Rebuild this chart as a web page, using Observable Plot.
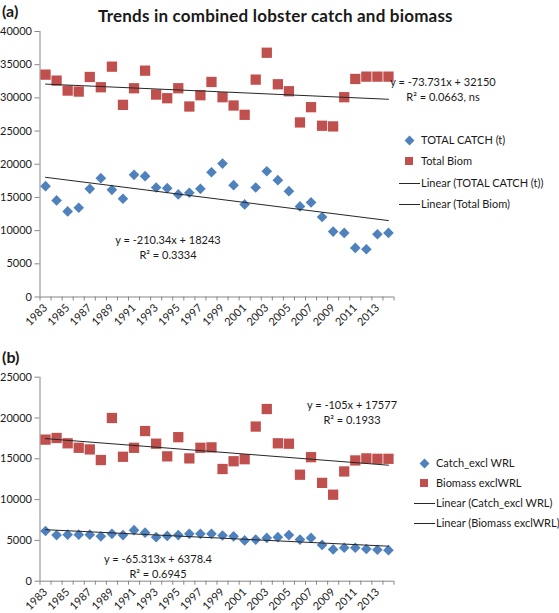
<!DOCTYPE html>
<html><head><meta charset="utf-8">
<script src="https://cdn.jsdelivr.net/npm/d3@7"></script>
<script src="https://cdn.jsdelivr.net/npm/@observablehq/plot@0.6"></script>
<style>
body{margin:0;background:#fff;}
#root{position:relative;width:559px;height:613px;font-family:Lato,"Open Sans",sans-serif;color:#1a1a1a;overflow:hidden;}
.t{position:absolute;white-space:nowrap;font-size:11px;line-height:14px;}
.b{font-weight:bold;}
.panel{position:absolute;left:0;}
.lg{position:absolute;white-space:nowrap;font-size:11px;line-height:14px;}
.sw{position:absolute;}
</style></head><body><div id="root"></div>
<script>
// ---- data ----
const years = [1983,1984,1985,1986,1987,1988,1989,1990,1991,1992,1993,1994,1995,1996,1997,1998,1999,2000,2001,2002,2003,2004,2005,2006,2007,2008,2009,2010,2011,2012,2013,2014];
const yearTickLabels = [1983,1985,1987,1989,1991,1993,1995,1997,1999,2001,2003,2005,2007,2009,2011,2013];
// panel (a)
const totalCatch = [16700,14550,12900,13450,16300,17900,16150,14800,18400,18200,16500,16400,15450,15700,16300,18800,20100,16850,13950,16500,18950,17600,15950,13650,14250,12050,9850,9650,7400,7200,9450,9650];
const totalBiom  = [33500,32600,31100,30950,33150,31600,34700,28950,31450,34100,30500,29950,31450,28700,30400,32400,30100,28850,27450,32750,36800,32050,31000,26300,28600,25800,25700,30100,32850,33200,33200,33200];
const trendCatchA = [-210.34, 18243];
const trendBiomA  = [-73.731, 32150];
const yTicksA = [0,5000,10000,15000,20000,25000,30000,35000,40000];
// panel (b)
const catchExclWRL   = [6150,5650,5700,5700,5700,5500,5800,5650,6250,5950,5400,5550,5650,5800,5800,5800,5600,5500,5000,5100,5300,5400,5650,5100,5300,4450,3900,4100,4100,3950,3850,3800];
const biomassExclWRL = [17350,17550,16900,16350,16150,14850,20000,15250,16350,18400,16850,15300,17650,15050,16350,16400,13750,14700,14950,18950,21100,16900,16850,13050,15200,12050,10600,13450,14800,15050,15000,15000];
const trendCatchB = [-65.313, 6378.4];
const trendBiomB  = [-105, 17577];
const yTicksB = [0,5000,10000,15000,20000,25000];
// text
const titleText = "Trends in combined lobster catch and biomass";
const legendA = ["TOTAL CATCH (t)","Total Biom","Linear (TOTAL CATCH (t))","Linear (Total Biom)"];
const legendB = ["Catch_excl WRL","Biomass exclWRL","Linear (Catch_excl WRL)","Linear (Biomass exclWRL)"];

const BLUE = "#4F81BD", RED = "#C0504D", AXIS = "#868686", LINE = "#262626";
const FONT = "Lato, 'Open Sans', sans-serif";

function panel({catchS, biomS, trends, yMax, yTicks, height, marginTop, marginBottom}) {
  const data = years.map((yr, i) => ({yr, c: catchS[i], b: biomS[i]}));
  const n = years.length;
  const trendData = trends.map(([m, k]) => [1, n].map(x => ({yr: years[x - 1], v: m * x + k})));
  const bounds = years.map(y => y - 0.5).concat([years[n - 1] + 0.5]);
  return Plot.plot({
    width: 559, height, marginLeft: 39.5, marginRight: 165.5, marginTop, marginBottom,
    style: {fontFamily: FONT, fontSize: "11px", color: "#1a1a1a", background: "transparent", overflow: "visible"},
    x: {type: "linear", domain: [years[0] - 0.5, years[n - 1] + 0.5]},
    y: {domain: [0, yMax]},
    marks: [
      Plot.axisY({ticks: yTicks, tickSize: 5, tickPadding: 3, tickFormat: d => String(d), label: null, stroke: AXIS, fill: "#1a1a1a"}),
      Plot.axisX({ticks: yearTickLabels, tickSize: 0, tickPadding: 9, tickRotate: -45, tickFormat: d => String(d), label: null, fill: "#1a1a1a"}),
      Plot.axisX({ticks: bounds, tickSize: 4, tickFormat: () => "", label: null, stroke: AXIS}),
      Plot.ruleX([years[0] - 0.5], {stroke: AXIS}),
      Plot.ruleY([0], {stroke: AXIS}),
      Plot.dot(data, {x: "yr", y: "b", symbol: "square", r: 5.8, fill: RED}),
      Plot.dot(data, {x: "yr", y: "c", symbol: "diamond2", r: 4.8, fill: BLUE}),
      Plot.line(trendData[0], {x: "yr", y: "v", stroke: LINE, strokeWidth: 1}),
      Plot.line(trendData[1], {x: "yr", y: "v", stroke: LINE, strokeWidth: 1})
    ]
  });
}

const root = document.getElementById("root");
function addText(txt, left, top, cls, extra) {
  const d = document.createElement("div");
  d.className = cls; d.textContent = txt;
  d.style.left = left + "px"; d.style.top = top + "px";
  if (extra) Object.assign(d.style, extra);
  root.appendChild(d); return d;
}

const svgA = panel({catchS: totalCatch, biomS: totalBiom, trends: [trendCatchA, trendBiomA], yMax: 40000, yTicks: yTicksA, height: 326, marginTop: 11, marginBottom: 49.5});
svgA.classList.add("panel"); svgA.style.top = "20px"; root.appendChild(svgA);
const svgB = panel({catchS: catchExclWRL, biomS: biomassExclWRL, trends: [trendCatchB, trendBiomB], yMax: 25000, yTicks: yTicksB, height: 247, marginTop: 10.7, marginBottom: 32.3});
svgB.classList.add("panel"); svgB.style.top = "366px"; root.appendChild(svgB);

// labels
addText("(a)", 2, 2, "t b", {fontSize: "16px", lineHeight: "18px"});
addText("(b)", 2, 348, "t b", {fontSize: "16px", lineHeight: "18px"});
addText(titleText, 98, 6, "t b", {fontSize: "17px", lineHeight: "20px", letterSpacing: "0.2px"});

// equations
function eqn(l1, l2, cx, y1, y2) {
  addText(l1, 0, y1 - 7, "t", {left: cx + "px", transform: "translateX(-50%)"});
  addText(l2, 0, y2 - 7, "t", {left: cx + "px", transform: "translateX(-50%)"});
}
eqn("y = -73.731x + 32150", "R² = 0.0663, ns", 443, 82, 97);
eqn("y = -210.34x + 18243", "R² = 0.3334", 168, 240, 255);
eqn("y = -105x + 17577", "R² = 0.1933", 352, 405, 420);
eqn("y = -65.313x + 6378.4", "R² = 0.6945", 158, 559, 574);

// legends
function legend(labels, mx, tx, ys) {
  const dia = document.createElement("div");
  dia.className = "sw";
  Object.assign(dia.style, {left: (mx - 3.5) + "px", top: (ys[0] - 3.5) + "px", width: "7px", height: "7px", background: BLUE, transform: "rotate(45deg)"});
  root.appendChild(dia);
  const sq = document.createElement("div");
  sq.className = "sw";
  Object.assign(sq.style, {left: (mx - 4) + "px", top: (ys[1] - 4) + "px", width: "8px", height: "8px", background: RED});
  root.appendChild(sq);
  for (const k of [2, 3]) {
    const ln = document.createElement("div");
    ln.className = "sw";
    Object.assign(ln.style, {left: (tx - 22) + "px", top: (ys[k] - 0.5) + "px", width: "21px", height: "1px", background: LINE});
    root.appendChild(ln);
  }
  labels.forEach((s, i) => addText(s, tx, ys[i] - 7, "lg"));
}
legend(legendA, 409, 421, [140, 161, 183, 204]);
legend(legendB, 424, 436, [463, 483, 503, 523]);
</script></body></html>
